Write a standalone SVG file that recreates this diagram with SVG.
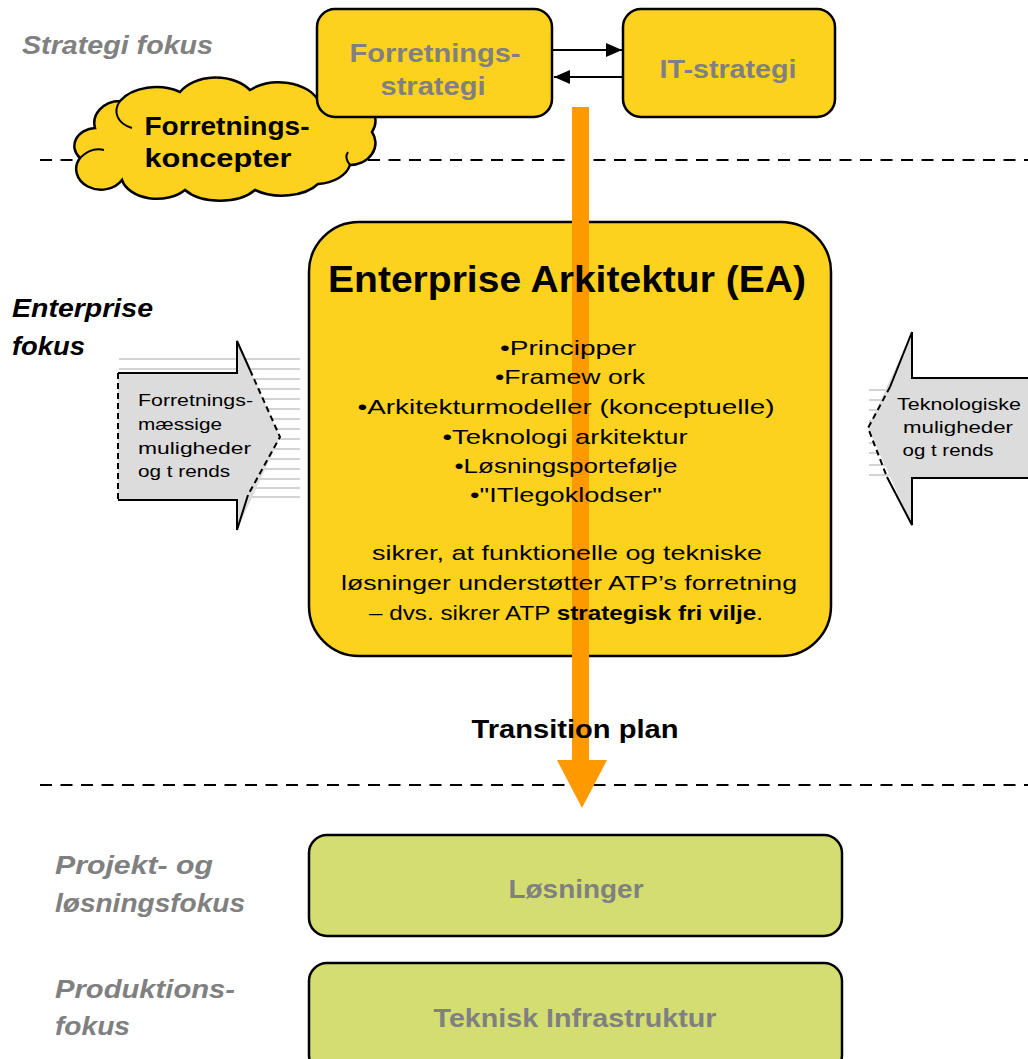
<svg xmlns="http://www.w3.org/2000/svg" width="1028" height="1059" viewBox="0 0 1028 1059">
  <style>
    .yel { fill: #FDD21F; stroke: #000; stroke-width: 2.5; }
    .grn { fill: #D4DD72; stroke: #000; stroke-width: 2.5; }
    .sep { stroke: #000; stroke-width: 2; stroke-dasharray: 12 8.5; fill: none; }
    .lane { font-family: "Liberation Sans", Arial, sans-serif; font-weight: bold; font-style: italic; font-size: 25px; fill: #808080; }
    .lane-dark { font-family: "Liberation Sans", Arial, sans-serif; font-weight: bold; font-style: italic; font-size: 26px; fill: #000; }
    .title-gray { font-family: "Liberation Sans", Arial, sans-serif; font-weight: bold; font-size: 26px; fill: #808080; text-anchor: middle; }
    .title-black { font-family: "Liberation Sans", Arial, sans-serif; font-weight: bold; font-size: 26px; fill: #000; text-anchor: middle; }
    .body { font-family: "Liberation Sans", Arial, sans-serif; font-size: 21px; fill: #000; text-anchor: middle; }
    .side { font-family: "Liberation Sans", Arial, sans-serif; font-size: 17px; fill: #000; }
    .stripe { stroke: #D3D3D3; stroke-width: 2; }
    .gray-fill { fill: #DCDCDC; stroke: none; }
    .edge { fill: none; stroke: #000; stroke-width: 2; }
    .edge-dash { fill: none; stroke: #000; stroke-width: 2; stroke-dasharray: 6 4; }
    .link { stroke: #000; stroke-width: 2; fill: none; }
    .orange { fill: #FF9900; }
  </style>
  <defs>
    <marker id="head" viewBox="0 0 10 10" refX="10" refY="5" markerWidth="8" markerHeight="7" markerUnits="userSpaceOnUse" orient="auto">
      <path d="M0,0 L10,5 L0,10 Z" fill="#000"/>
    </marker>
    <marker id="tri" viewBox="0 0 16 14" refX="16" refY="7" markerWidth="16" markerHeight="14" markerUnits="userSpaceOnUse" orient="auto">
      <path d="M0,0 L16,7 L0,14 Z" fill="#000"/>
    </marker>
  </defs>

  <!-- background -->
  <rect width="1028" height="1059" fill="#fff"/>

  <!-- lane separators -->
  <g id="separators">
    <line class="sep" x1="40" y1="160" x2="1028" y2="160"/>
    <line class="sep" x1="40" y1="785" x2="1028" y2="785"/>
  </g>

  <!-- lane labels -->
  <g id="lane-labels">
    <text class="lane" x="22" y="54" textLength="191" lengthAdjust="spacingAndGlyphs">Strategi fokus</text>
    <text class="lane-dark" x="12" y="317" textLength="141" lengthAdjust="spacingAndGlyphs">Enterprise</text>
    <text class="lane-dark" x="12" y="355" textLength="73" lengthAdjust="spacingAndGlyphs">fokus</text>
    <text class="lane" x="55" y="874" textLength="158" lengthAdjust="spacingAndGlyphs">Projekt- og</text>
    <text class="lane" x="55" y="912" textLength="190" lengthAdjust="spacingAndGlyphs">løsningsfokus</text>
    <text class="lane" x="55" y="998" textLength="180" lengthAdjust="spacingAndGlyphs">Produktions-</text>
    <text class="lane" x="55" y="1035" textLength="75" lengthAdjust="spacingAndGlyphs">fokus</text>
  </g>

  <!-- cloud: business concepts -->
  <g id="forretningskoncepter">
    <path class="yel" d="M95,128 A26,22 0 0 1 120,101 A42,28 0 0 1 180,92 A42,30 0 0 1 250,90 A42,28 0 0 1 318,100 A36,26 0 0 1 372,132 A26,22 0 0 1 350,165 A36,24 0 0 1 318,184 A42,24 0 0 1 255,190 A42,24 0 0 1 185,190 A36,24 0 0 1 122,180 A24,20 0 0 1 80,158 A22,18 0 0 1 95,128 Z"/>
    <path class="edge" d="M120,101 C112,112 118,124 132,128"/>
    <path class="edge" d="M80,158 C88,150 96,148 104,150"/>
    <path class="edge" d="M350,165 C346,160 345,156 348,152"/>
    <text class="title-black" x="227" y="135" textLength="165" lengthAdjust="spacingAndGlyphs">Forretnings-</text>
    <text class="title-black" x="218" y="167" textLength="147" lengthAdjust="spacingAndGlyphs">koncepter</text>
  </g>

  <!-- business strategy -->
  <g id="forretningsstrategi">
    <rect class="yel" x="317" y="9" width="235" height="108" rx="18"/>
    <text class="title-gray" x="435" y="62" textLength="171" lengthAdjust="spacingAndGlyphs">Forretnings-</text>
    <text class="title-gray" x="433" y="95" textLength="105" lengthAdjust="spacingAndGlyphs">strategi</text>
  </g>

  <!-- IT strategy -->
  <g id="it-strategi">
    <rect class="yel" x="623" y="9" width="212" height="108" rx="18"/>
    <text class="title-gray" x="728" y="78" textLength="137" lengthAdjust="spacingAndGlyphs">IT-strategi</text>
  </g>

  <!-- Enterprise Architecture box -->
  <g id="ea">
    <rect class="yel" x="309" y="222" width="522" height="434" rx="50"/>
  </g>

  <!-- business opportunities arrow (left) -->
  <g id="forretningsmaessige-muligheder">
    <g>
      <line class="stripe" x1="119" y1="359" x2="300" y2="359"/>
      <line class="stripe" x1="119" y1="369" x2="300" y2="369"/>
      <line class="stripe" x1="119" y1="379" x2="300" y2="379"/>
      <line class="stripe" x1="119" y1="389" x2="300" y2="389"/>
      <line class="stripe" x1="119" y1="399" x2="300" y2="399"/>
      <line class="stripe" x1="119" y1="409" x2="300" y2="409"/>
      <line class="stripe" x1="119" y1="419" x2="300" y2="419"/>
      <line class="stripe" x1="119" y1="429" x2="300" y2="429"/>
      <line class="stripe" x1="119" y1="439" x2="300" y2="439"/>
      <line class="stripe" x1="119" y1="449" x2="300" y2="449"/>
      <line class="stripe" x1="119" y1="459" x2="300" y2="459"/>
      <line class="stripe" x1="119" y1="469" x2="300" y2="469"/>
      <line class="stripe" x1="119" y1="479" x2="300" y2="479"/>
      <line class="stripe" x1="119" y1="488" x2="300" y2="488"/>
      <line class="stripe" x1="119" y1="497" x2="300" y2="497"/>
    </g>
    <polygon class="gray-fill" points="118,373 237,373 237,341 280,437 237,530 237,500 118,500"/>
    <path class="edge" d="M118,373 L237,373 L237,341 L250,370"/>
    <path class="edge" d="M118,500 L237,500 L237,530 L248,495"/>
    <path class="edge-dash" d="M118,373 L118,500"/>
    <path class="edge-dash" d="M250,370 L280,437 L248,495"/>
    <text class="side" x="138" y="406" textLength="115" lengthAdjust="spacingAndGlyphs">Forretnings-</text>
    <text class="side" x="138" y="430" textLength="84" lengthAdjust="spacingAndGlyphs">mæssige</text>
    <text class="side" x="138" y="454" textLength="113" lengthAdjust="spacingAndGlyphs">muligheder</text>
    <text class="side" x="138" y="477" textLength="92" lengthAdjust="spacingAndGlyphs">og t rends</text>
  </g>

  <!-- technology opportunities arrow (right) -->
  <g id="teknologiske-muligheder">
    <g>
      <line class="stripe" x1="869" y1="390" x2="912" y2="390"/>
      <line class="stripe" x1="869" y1="400" x2="912" y2="400"/>
      <line class="stripe" x1="869" y1="410" x2="912" y2="410"/>
      <line class="stripe" x1="869" y1="421" x2="912" y2="421"/>
      <line class="stripe" x1="869" y1="432" x2="912" y2="432"/>
      <line class="stripe" x1="869" y1="443" x2="912" y2="443"/>
      <line class="stripe" x1="869" y1="453" x2="912" y2="453"/>
      <line class="stripe" x1="869" y1="465" x2="912" y2="465"/>
      <line class="stripe" x1="869" y1="475" x2="912" y2="475"/>
    </g>
    <polygon class="gray-fill" points="868,428 912,332 912,378 1030,378 1030,478 912,478 912,525"/>
    <path class="edge" d="M890,387 L912,332 L912,378 L1030,378"/>
    <path class="edge" d="M1030,478 L912,478 L912,525 L887,477"/>
    <path class="edge-dash" d="M890,387 L868,428 L887,477"/>
    <text class="side" x="959" y="410" text-anchor="middle" textLength="124" lengthAdjust="spacingAndGlyphs">Teknologiske</text>
    <text class="side" x="958" y="433" text-anchor="middle" textLength="110" lengthAdjust="spacingAndGlyphs">muligheder</text>
    <text class="side" x="948" y="456" text-anchor="middle" textLength="91" lengthAdjust="spacingAndGlyphs">og t rends</text>
  </g>

  <!-- connectors -->
  <g id="connectors">
    <line class="link" x1="552" y1="50" x2="622" y2="50" marker-end="url(#tri)"/>
    <line class="link" x1="623" y1="77" x2="554" y2="77" marker-end="url(#tri)"/>
    <!-- transition plan arrow -->
    <rect class="orange" x="572" y="107" width="17" height="654"/>
    <polygon class="orange" points="557,760 607,760 582,808"/>
  </g>

  <!-- Enterprise Architecture content -->
  <g id="ea-label">
    <text x="567" y="292" font-family="Liberation Sans, Arial, sans-serif" font-weight="bold" font-size="36" text-anchor="middle" textLength="478" lengthAdjust="spacingAndGlyphs">Enterprise Arkitektur (EA)</text>
    <text class="body" x="568" y="355" textLength="136" lengthAdjust="spacingAndGlyphs">•Principper</text>
    <text class="body" x="570" y="384" textLength="150" lengthAdjust="spacingAndGlyphs">•Framew ork</text>
    <text class="body" x="566" y="414" textLength="417" lengthAdjust="spacingAndGlyphs">•Arkitekturmodeller (konceptuelle)</text>
    <text class="body" x="565" y="444" textLength="245" lengthAdjust="spacingAndGlyphs">•Teknologi arkitektur</text>
    <text class="body" x="566" y="473" textLength="223" lengthAdjust="spacingAndGlyphs">•Løsningsportefølje</text>
    <text class="body" x="566" y="502" textLength="192" lengthAdjust="spacingAndGlyphs">•"ITlegoklodser"</text>
    <text class="body" x="567" y="560" font-size="22" textLength="390" lengthAdjust="spacingAndGlyphs">sikrer, at funktionelle og tekniske</text>
    <text class="body" x="569" y="590" font-size="22" textLength="456" lengthAdjust="spacingAndGlyphs">løsninger understøtter ATP’s forretning</text>
    <text class="body" x="566" y="620" font-size="22" textLength="394" lengthAdjust="spacingAndGlyphs">– dvs. sikrer ATP <tspan font-weight="bold">strategisk fri vilje</tspan>.</text>
  </g>

  <!-- transition label -->
  <g id="transition-plan">
    <text class="title-black" x="575" y="738" textLength="207" lengthAdjust="spacingAndGlyphs">Transition plan</text>
  </g>

  <!-- solutions -->
  <g id="loesninger">
    <rect class="grn" x="309" y="835" width="533" height="101" rx="18"/>
    <text class="title-gray" x="576" y="898" textLength="135" lengthAdjust="spacingAndGlyphs">Løsninger</text>
  </g>

  <!-- technical infrastructure -->
  <g id="teknisk-infrastruktur">
    <rect class="grn" x="309" y="963" width="533" height="110" rx="18"/>
    <text class="title-gray" x="575" y="1027" textLength="283" lengthAdjust="spacingAndGlyphs">Teknisk Infrastruktur</text>
  </g>
</svg>
